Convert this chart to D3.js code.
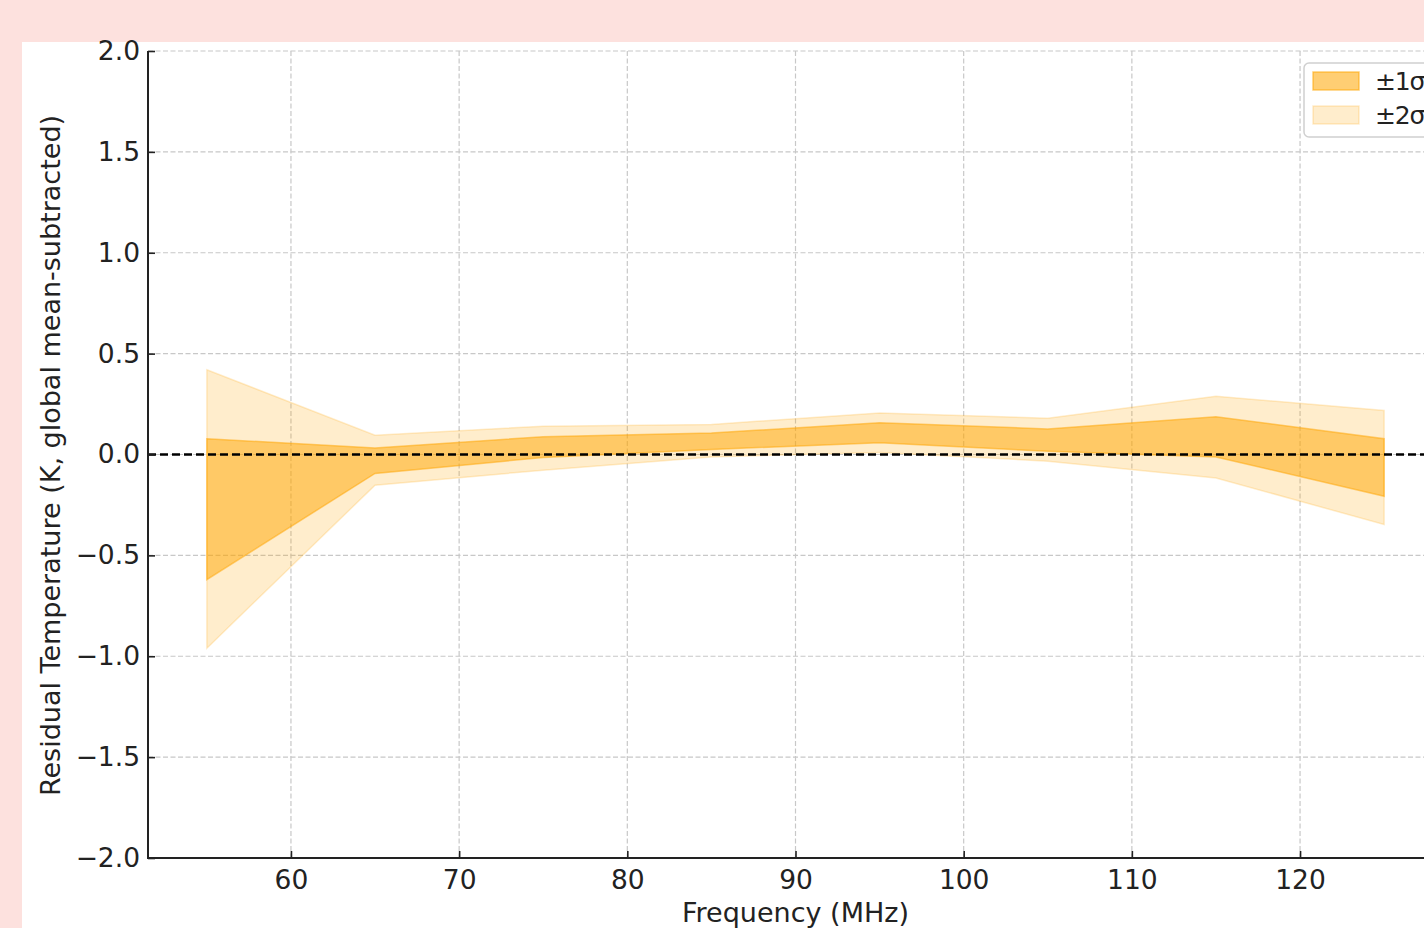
<!DOCTYPE html>
<html>
<head>
<meta charset="utf-8">
<script src="https://cdn.jsdelivr.net/npm/d3@7/dist/d3.min.js"></script>
<style>
html,body{margin:0;padding:0;background:#fde1de;}
svg{display:block;}
text{font-family:"DejaVu Sans",sans-serif;fill:#222;}
</style>
</head>
<body>
<svg id="chart" width="1424" height="928"></svg>
<script>
// Data
const freq   = [55, 65, 75, 85, 95, 105, 115, 125];
const hi2    = [0.42, 0.096, 0.14, 0.149, 0.206, 0.18, 0.289, 0.218];
const hi1    = [0.078, 0.032, 0.088, 0.107, 0.157, 0.127, 0.187, 0.078];
const lo1    = [-0.62, -0.094, -0.015, 0.025, 0.058, 0.016, -0.012, -0.207];
const lo2    = [-0.96, -0.152, -0.078, -0.012, 0.01, -0.033, -0.116, -0.347];
const xTicks = [60, 70, 80, 90, 100, 110, 120];
const yTicks = [-2.0, -1.5, -1.0, -0.5, 0.0, 0.5, 1.0, 1.5, 2.0];
const legendLabels = ["±1σ", "±2σ"];
const xLabel = "Frequency (MHz)";
const yLabel = "Residual Temperature (K, global mean-subtracted)";

(function(){
const svg = d3.select("#chart");
const W = 1424, H = 928;
svg.append("rect").attr("x",0).attr("y",0).attr("width",W).attr("height",H).attr("fill","#fde1de");
svg.append("rect").attr("x",22).attr("y",42).attr("width",W-22).attr("height",H-42).attr("fill","#ffffff");

const pL = 148, pR = 1443, pT = 51, pB = 858;
const x = d3.scaleLinear().domain([51.5, 128.5]).range([pL, pR]);
const y = d3.scaleLinear().domain([-2, 2]).range([pB, pT]);
const ORANGE = "#ffa500";
const fmt = d => (d < 0 ? "\u2212" : "") + Math.abs(d).toFixed(1);

svg.append("defs").append("clipPath").attr("id","plotclip")
  .append("rect").attr("x",pL).attr("y",pT).attr("width",pR-pL).attr("height",pB-pT);

// grid
const grid = svg.append("g");
grid.selectAll("line.gx").data(xTicks).join("line").attr("class","gx")
  .attr("x1",d=>x(d)).attr("x2",d=>x(d)).attr("y1",pT).attr("y2",pB)
  .attr("stroke","#c8c8c8").attr("stroke-width",1.2).attr("stroke-dasharray","5,2.5");
grid.selectAll("line.gy").data(yTicks).join("line").attr("class","gy")
  .attr("x1",pL).attr("x2",pR).attr("y1",d=>y(d)).attr("y2",d=>y(d))
  .attr("stroke","#c8c8c8").attr("stroke-width",1.2).attr("stroke-dasharray","5,2.5");

const pts = freq.map((f,i)=>({f, hi1:hi1[i], lo1:lo1[i], hi2:hi2[i], lo2:lo2[i]}));
const area2 = d3.area().x(d=>x(d.f)).y0(d=>y(d.lo2)).y1(d=>y(d.hi2));
const area1 = d3.area().x(d=>x(d.f)).y0(d=>y(d.lo1)).y1(d=>y(d.hi1));
const plot = svg.append("g").attr("clip-path","url(#plotclip)");
plot.append("path").datum(pts).attr("d",area2)
  .attr("fill",ORANGE).attr("fill-opacity",0.2)
  .attr("stroke",ORANGE).attr("stroke-opacity",0.2).attr("stroke-width",1.5);
plot.append("path").datum(pts).attr("d",area1)
  .attr("fill",ORANGE).attr("fill-opacity",0.5)
  .attr("stroke",ORANGE).attr("stroke-opacity",0.5).attr("stroke-width",1.5);

// zero line
plot.append("line").attr("x1",pL).attr("x2",pR).attr("y1",y(0)).attr("y2",y(0))
  .attr("stroke","#000").attr("stroke-width",2.4).attr("stroke-dasharray","8,4");

// axes
const xAxis = d3.axisBottom(x).tickValues(xTicks).tickSize(-7).tickPadding(12).tickFormat(d3.format("d"));
const gx = svg.append("g").attr("transform",`translate(0,${pB})`).call(xAxis);
gx.select(".domain").remove();
gx.selectAll(".tick line").attr("stroke","#222").attr("stroke-width",1.6);
gx.selectAll(".tick text").attr("font-size",26.5).attr("fill","#222").attr("font-family","DejaVu Sans");

const yAxis = d3.axisLeft(y).tickValues(yTicks).tickSize(-7).tickPadding(8).tickFormat(fmt);
const gy = svg.append("g").attr("transform",`translate(${pL},0)`).call(yAxis);
gy.select(".domain").remove();
gy.selectAll(".tick line").attr("stroke","#222").attr("stroke-width",1.6);
gy.selectAll(".tick text").attr("font-size",26.5).attr("fill","#222").attr("font-family","DejaVu Sans");

// spines
svg.append("line").attr("x1",pL).attr("x2",pL).attr("y1",pT).attr("y2",pB+1)
  .attr("stroke","#222").attr("stroke-width",2);
svg.append("line").attr("x1",pL-1).attr("x2",pR).attr("y1",pB).attr("y2",pB)
  .attr("stroke","#222").attr("stroke-width",2);

// labels
svg.append("text").attr("x",(pL+pR)/2).attr("y",922).attr("text-anchor","middle")
  .attr("font-size",27).text(xLabel);
svg.append("text").attr("transform",`translate(60,${(pT+pB)/2 + 1}) rotate(-90)`)
  .attr("text-anchor","middle").attr("font-size",27).text(yLabel);

// legend
const lg = svg.append("g");
lg.append("rect").attr("x",1304).attr("y",63).attr("width",160).attr("height",74).attr("rx",5)
  .attr("fill","#fff").attr("fill-opacity",0.85).attr("stroke","#d0d0d0").attr("stroke-width",1.5);
const legOp = [0.55, 0.2];
legendLabels.forEach((lab,i)=>{
  const yy = 72 + i*34;
  lg.append("rect").attr("x",1313).attr("y",yy).attr("width",46).attr("height",18)
    .attr("fill",ORANGE).attr("fill-opacity",legOp[i])
    .attr("stroke",ORANGE).attr("stroke-opacity",legOp[i]).attr("stroke-width",1.5);
  lg.append("text").attr("x",1375).attr("y",yy+18).attr("font-size",25)
    .attr("letter-spacing",-1.2).text(lab);
});
})();
</script>
</body>
</html>
